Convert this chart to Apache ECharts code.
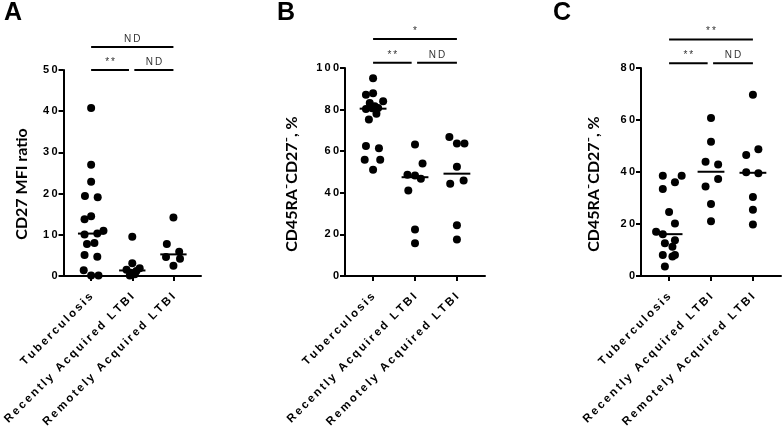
<!DOCTYPE html>
<html><head><meta charset="utf-8">
<script src="https://cdn.jsdelivr.net/npm/echarts@6/dist/echarts.min.js"></script>
<style>html,body{margin:0;padding:0;background:#fff}#c{width:782px;height:430px}</style>
</head><body><div id="c"></div>
<script>
const categories = ['Tuberculosis', 'Recently Acquired LTBI', 'Remotely Acquired LTBI'];

// Panel A: CD27 MFI ratio
const aTB = [40.8, 27, 22.9, 19.4, 19.1, 14.5, 13.8, 11, 10.3, 10.1, 8, 7.8, 5.1, 4.7, 1.4, 0.1, 0.1];
const aTBJitter = [0, 0, 0, -0.15, 0.16, 0, -0.16, 0.3, 0.15, -0.16, 0.08, -0.1, -0.16, 0.15, -0.18, 0, 0.18];
const aRecent = [9.5, 3.1, 1.9, 1.5, 1.2, 0.8, 0.4, 0.1];
const aRecentJitter = [0, 0, 0.18, -0.14, 0.1, -0.04, 0.06, -0.06];
const aRemote = [14.2, 7.8, 5.9, 4.6, 4.2, 2.5];
const aRemoteJitter = [0, -0.16, 0.14, -0.18, 0.16, 0];
const aTicks = [0, 10, 20, 30, 40, 50];

// Panel B: CD45RA-CD27- %
const bTB = [95.1, 87.9, 87.1, 84, 83.2, 81.6, 80.8, 80.3, 78, 75.2, 62.5, 61.4, 55.9, 55.9, 51.1, 80.6];
const bTBJitter = [0, 0, -0.17, 0.24, -0.08, 0.04, 0.12, -0.17, 0.08, -0.1, -0.17, 0.14, -0.2, 0.17, 0, -0.02];
const bRecent = [63.2, 54.1, 48.7, 48.3, 46.7, 41.1, 22.4, 15.7];
const bRecentJitter = [0, 0.18, -0.18, 0, 0.14, -0.16, 0, 0];
const bRemote = [66.8, 63.7, 63.7, 52.5, 45.9, 44.3, 24.4, 17.6];
const bRemoteJitter = [-0.18, 0, 0.18, 0, 0.16, -0.16, 0, 0];
const bTicks = [0, 20, 40, 60, 80, 100];

// Panel C: CD45RA-CD27- %
const cTB = [38.6, 38.6, 36.1, 33.5, 24.6, 20.2, 17, 16.1, 13.8, 12.6, 11.3, 8.1, 7.5, 8.1, 3.7];
const cTBJitter = [-0.15, 0.3, 0.14, -0.15, 0, 0.14, -0.31, -0.15, 0.14, -0.1, 0.08, -0.15, 0.08, 0.14, -0.1];
const cRecent = [60.8, 51.6, 43.9, 42.9, 37.3, 34.4, 27.7, 21.1];
const cRecentJitter = [0, 0, -0.13, 0.17, 0.17, -0.13, 0, 0];
const cRemote = [69.7, 48.8, 46.5, 39.9, 39.5, 30.4, 25.5, 19.8];
const cRemoteJitter = [0, 0.13, -0.16, -0.16, 0.13, 0, 0, 0];
const cTicks = [0, 20, 40, 60, 80];

const panelLetters = ['A', 'B', 'C'];
const yTitles = ['CD27 MFI ratio', 'CD45RA\u207BCD27\u207B, %', 'CD45RA\u207BCD27\u207B, %'];
// significance labels: [from, to, label]
const sigA = [[0, 2, 'ND'], [0, 0.92, '**'], [1.05, 2, 'ND']];
const sigB = [[0, 2, '*'], [0, 0.92, '**'], [1.05, 2, 'ND']];
const sigC = [[0, 2, '**'], [0, 0.92, '**'], [1.05, 2, 'ND']];

const spaced = s => String(s).split('').join('\u2009');
const median = arr => { const s = [...arr].sort((a, b) => a - b); const n = s.length; return n % 2 ? s[(n - 1) / 2] : (s[n / 2 - 1] + s[n / 2]) / 2; };

const panels = [
  { groups: [[aTB, aTBJitter], [aRecent, aRecentJitter], [aRemote, aRemoteJitter]], ticks: aTicks, sig: sigA, sigY: [55.6, 50],
    grid: { left: 62, top: 70, width: 139, height: 208 }, titleX: 22, letterX: 4 },
  { groups: [[bTB, bTBJitter], [bRecent, bRecentJitter], [bRemote, bRemoteJitter]], ticks: bTicks, sig: sigB, sigY: [114, 102.5],
    grid: { left: 345, top: 68, width: 140, height: 210 }, titleX: 292, letterX: 277 },
  { groups: [[cTB, cTBJitter], [cRecent, cRecentJitter], [cRemote, cRemoteJitter]], ticks: cTicks, sig: sigC, sigY: [91, 81.8],
    grid: { left: 641, top: 68, width: 140, height: 210 }, titleX: 594, letterX: 553 }
];
const titleCenterY = 184;

const font = 'Liberation Sans, Arial, sans-serif';
const grids = [], xAxes = [], yAxes = [], series = [];
panels.forEach((p, g) => {
  grids.push(p.grid);
  xAxes.push({
    type: 'value', gridIndex: g, min: -0.67, max: 2.67,
    axisLine: { show: true, onZero: false, lineStyle: { color: '#000', width: 2 } },
    axisTick: { show: true, customValues: [0, 1, 2], length: 5, lineStyle: { color: '#000', width: 2 } },
    axisLabel: { customValues: [0, 1, 2], formatter: v => spaced(categories[Math.round(v)]), rotate: 45,
      color: '#000', fontWeight: 'bold', fontSize: 11.5, fontFamily: font, margin: 19 },
    splitLine: { show: false }
  });
  const tmax = p.ticks[p.ticks.length - 1];
  yAxes.push({
    type: 'value', gridIndex: g, min: 0, max: tmax, interval: p.ticks[1] - p.ticks[0],
    axisLine: { show: true, onZero: false, lineStyle: { color: '#000', width: 2 } },
    axisTick: { show: true, length: 5, lineStyle: { color: '#000', width: 2 } },
    axisLabel: { formatter: v => spaced(v), color: '#000', fontWeight: 'bold', fontSize: 11, fontFamily: font, margin: 6 },
    splitLine: { show: false }
  });
  p.groups.forEach(([vals, jit], i) => {
    series.push({
      type: 'scatter', xAxisIndex: g, yAxisIndex: g, clip: false, symbolSize: 8,
      itemStyle: { color: '#000', opacity: 1 }, silent: true,
      data: vals.map((v, k) => [i + jit[k], v])
    });
    const m = median(vals);
    series.push({
      type: 'line', xAxisIndex: g, yAxisIndex: g, symbol: 'none', silent: true, clip: false,
      lineStyle: { color: '#000', width: 2 },
      data: [[i - 0.32, m], [i + 0.32, m]]
    });
  });
});

const chart = echarts.init(document.getElementById('c'), null, { renderer: 'canvas' });
chart.setOption({
  animation: false,
  backgroundColor: '#fff',
  grid: grids, xAxis: xAxes, yAxis: yAxes, series: series
});

const graphics = [];
panels.forEach((p, g) => {
  graphics.push({ type: 'text', left: p.letterX, top: 1,
    style: { text: panelLetters[g], font: 'bold 25px Liberation Sans, Arial, sans-serif', fill: '#000' } });
  graphics.push({ type: 'text', x: p.titleX, y: titleCenterY, rotation: Math.PI / 2,
    style: { text: yTitles[g], font: 'bold 16px Lato, sans-serif', fill: '#000',
      textAlign: 'center', textVerticalAlign: 'middle' } });
  p.sig.forEach((s, k) => {
    const y = k === 0 ? p.sigY[0] : p.sigY[1];
    const a = chart.convertToPixel({ gridIndex: g }, [s[0], y]);
    const b = chart.convertToPixel({ gridIndex: g }, [s[1], y]);
    graphics.push({ type: 'line', shape: { x1: a[0], y1: a[1], x2: b[0], y2: b[1] },
      style: { stroke: '#000', lineWidth: 2 } });
    graphics.push({ type: 'text', x: (a[0] + b[0]) / 2, y: a[1] - 3,
      style: { text: spaced(s[2]), font: '10px Liberation Sans, Arial, sans-serif', fill: '#333',
        textAlign: 'center', textVerticalAlign: 'bottom' } });
  });
});
chart.setOption({ graphic: graphics });
</script>
</body></html>
